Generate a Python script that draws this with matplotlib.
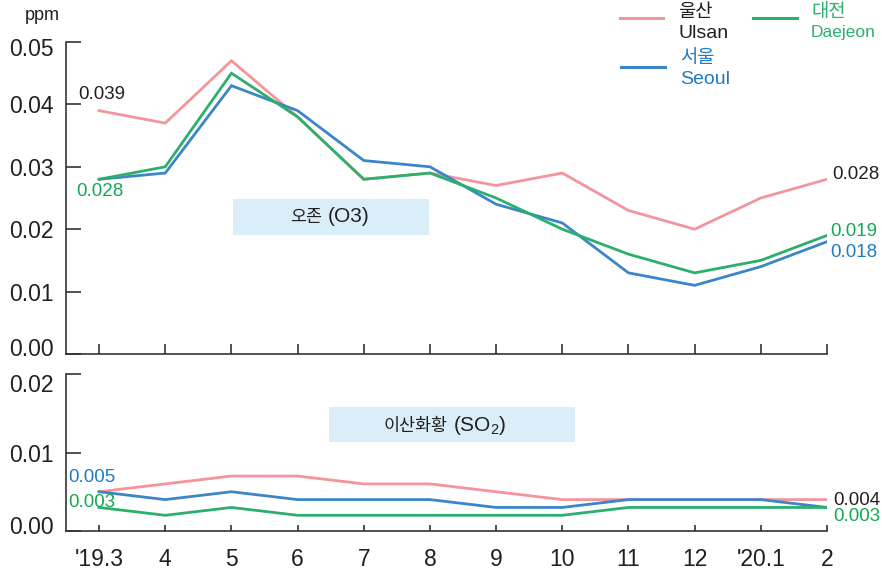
import matplotlib.pyplot as plt
import matplotlib as mpl
from matplotlib import font_manager
from matplotlib.patches import Rectangle
from matplotlib.lines import Line2D
from matplotlib.transforms import ScaledTranslation

# ---------------------------------------------------------------------------
# data
# ---------------------------------------------------------------------------
months = ["'19.3", "4", "5", "6", "7", "8", "9", "10", "11", "12", "'20.1", "2"]

o3_ulsan = [0.039, 0.037, 0.047, 0.038, 0.028, 0.029, 0.027, 0.029, 0.023, 0.020, 0.025, 0.028]
o3_seoul = [0.028, 0.029, 0.043, 0.039, 0.031, 0.030, 0.024, 0.021, 0.013, 0.011, 0.014, 0.018]
o3_daejeon = [0.028, 0.030, 0.045, 0.038, 0.028, 0.029, 0.025, 0.020, 0.016, 0.013, 0.015, 0.019]

so2_ulsan = [0.005, 0.006, 0.007, 0.007, 0.006, 0.006, 0.005, 0.004, 0.004, 0.004, 0.004, 0.004]
so2_seoul = [0.005, 0.004, 0.005, 0.004, 0.004, 0.004, 0.003, 0.003, 0.004, 0.004, 0.004, 0.003]
so2_daejeon = [0.003, 0.002, 0.003, 0.002, 0.002, 0.002, 0.002, 0.002, 0.003, 0.003, 0.003, 0.003]

o3_ticks = [0.00, 0.01, 0.02, 0.03, 0.04, 0.05]
so2_ticks = [0.00, 0.01, 0.02]

# ---------------------------------------------------------------------------
# style
# ---------------------------------------------------------------------------
PINK = "#F4949B"
BLUE = "#3A86C8"
GREEN = "#2BB06C"
TXT_BLUE = "#1F7BC4"
TXT_GREEN = "#14A854"
DARK = "#231F20"
BOX = "#DAEEFA"

installed = {f.name for f in font_manager.fontManager.ttflist}
NARROW = "Liberation Sans Narrow" if "Liberation Sans Narrow" in installed else "Liberation Sans"
FAM = ["Liberation Sans", "Noto Sans CJK KR", "DejaVu Sans"]
FAM_N = [NARROW, "Noto Sans CJK KR", "DejaVu Sans"]

mpl.rcParams.update({
    "font.family": FAM,
    "mathtext.fontset": "custom",
    "mathtext.rm": "Liberation Sans",
    "mathtext.default": "regular",
    "axes.linewidth": 1.2,
    "axes.edgecolor": "#333333",
    "xtick.color": "#333333",
    "ytick.color": "#333333",
})

W, H = 882, 572
fig = plt.figure(figsize=(W / 100, H / 100), dpi=100)


def fx(px):
    return px / W


def fy(py):
    return 1 - py / H


ax1 = fig.add_axes([fx(66), fy(354), fx(827) - fx(66), fy(42) - fy(354)])
ax2 = fig.add_axes([fx(66), fy(531), fx(827) - fx(66), fy(374) - fy(531)])

x = list(range(len(months)))

for ax, series, ticks, xlen in [
    (ax1, (o3_ulsan, o3_seoul, o3_daejeon), o3_ticks, 7.5),
    (ax2, (so2_ulsan, so2_seoul, so2_daejeon), so2_ticks, 4.5),
]:
    for vals, col in zip(series, (PINK, BLUE, GREEN)):
        ax.plot(x, vals, color=col, linewidth=2.0, solid_joinstyle="miter")
    ax.set_xlim(-0.5, len(months) - 1)
    ax.set_ylim(ticks[0], ticks[-1])
    ax.set_yticks(ticks)
    ax.set_yticklabels([f"{t:.2f}" for t in ticks])
    ax.set_xticks(x)
    for side in ("top", "right"):
        ax.spines[side].set_visible(False)
    ax.tick_params(axis="y", direction="in", length=11, width=1.2, pad=9,
                   labelsize=16.5, labelcolor=DARK)
    ax.tick_params(axis="x", direction="in", length=xlen, width=1.2, pad=12,
                   labelsize=16.5, labelcolor=DARK)

ax1.tick_params(axis="x", labelbottom=False)
ax2.set_xticklabels(months)


# the end labels sit a little inside the axis range, as in the original
def nudge(ax, idx, dy_px):
    lab = ax.yaxis.get_major_ticks()[idx].label1
    lab.set_transform(lab.get_transform() + ScaledTranslation(0, dy_px / 100, fig.dpi_scale_trans))


nudge(ax1, 0, 7)
nudge(ax1, -1, -5)
nudge(ax2, 0, 6)
nudge(ax2, -1, -9)


# value labels ---------------------------------------------------------------
def note(ax, i, vals, text, col, dx, dy):
    ax.annotate(text, xy=(i, vals[i]), xytext=(dx, dy), textcoords="offset pixels",
                ha="left", va="center", fontsize=13.5, color=col, family=FAM_N)


last = len(months) - 1
note(ax1, 0, o3_ulsan, "0.039", DARK, -21, 16)
note(ax1, 0, o3_daejeon, "0.028", TXT_GREEN, -23, -12)
note(ax1, last, o3_ulsan, "0.028", DARK, 5, 5)
note(ax1, last, o3_daejeon, "0.019", TXT_GREEN, 3, 4)
note(ax1, last, o3_seoul, "0.018", TXT_BLUE, 3, -11)

note(ax2, 0, so2_seoul, "0.005", TXT_BLUE, -31, 14)
note(ax2, 0, so2_daejeon, "0.003", TXT_GREEN, -31, 5)
note(ax2, last, so2_ulsan, "0.004", DARK, 6, -1)
note(ax2, last, so2_daejeon, "0.003", TXT_GREEN, 6, -9)


# pollutant boxes ------------------------------------------------------------
def box_label(ax, x0, y0, korean, latin):
    k = ax.text(x0, y0, korean, transform=ax.transAxes, ha="left",
                va="baseline", fontsize=12.5, color=DARK)
    ax.annotate(latin, xy=(1, y0), xycoords=(k, "axes fraction"),
                xytext=(4, 0), textcoords="offset points",
                ha="left", va="baseline", fontsize=15, color=DARK)


ax1.add_patch(Rectangle((0.219, 0.381), 0.258, 0.116, transform=ax1.transAxes,
                        facecolor=BOX, edgecolor="none", zorder=0))
box_label(ax1, 0.2943, 0.423, "오존", "(O3)")

ax2.add_patch(Rectangle((0.3456, 0.567), 0.3234, 0.223, transform=ax2.transAxes,
                        facecolor=BOX, edgecolor="none", zorder=0))
box_label(ax2, 0.4166, 0.637, "이산화황", "(SO$_2$)")

# unit ------------------------------------------------------------------------
fig.text(fx(25), fy(16), "ppm", fontsize=13, color=DARK, va="center", ha="left")

# legend (drawn by hand) ------------------------------------------------------
for (x0, x1_, y0), col in [((620, 663, 18), PINK), ((753, 797, 18), GREEN), ((621, 665, 67), BLUE)]:
    fig.add_artist(Line2D([fx(x0), fx(x1_)], [fy(y0), fy(y0)], color=col, linewidth=2.2))

fig.text(fx(678), fy(12), "울산", fontsize=13.5, color=DARK, va="center")
fig.text(fx(678), fy(34), "Ulsan", fontsize=14, color=DARK, va="center")
fig.text(fx(680), fy(59), "서울", fontsize=13.5, color=TXT_BLUE, va="center")
fig.text(fx(680), fy(80), "Seoul", fontsize=14, color=TXT_BLUE, va="center")
fig.text(fx(811), fy(13), "대전", fontsize=13.5, color=GREEN, va="center")
fig.text(fx(811), fy(33), "Daejeon", fontsize=12.5, color=GREEN, va="center")

fig.savefig("out.png", dpi=100)
